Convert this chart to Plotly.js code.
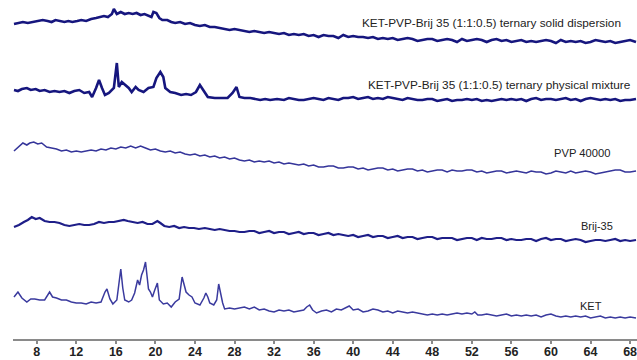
<!DOCTYPE html>
<html>
<head>
<meta charset="utf-8">
<script src="https://cdn.plot.ly/plotly-3.0.1.min.js"></script>
<style>html,body{margin:0;padding:0;background:#fff;}#chart{width:637px;height:360px;}</style>
</head>
<body>
<div id="chart"></div>
<script>
// 2θ (degrees) and stacked intensities (arbitrary units)
const sdX = [5.7,6.1,6.6,7.1,7.6,8.0,8.6,9.1,9.5,9.9,10.4,10.8,11.2,11.6,12.1,12.5,13.0,13.5,14.0,14.5,14.8,15.2,15.6,15.8,16.1,16.5,16.9,17.3,17.7,18.1,18.5,18.9,19.3,19.6,19.8,20.1,20.4,20.7,21.2,21.6,22.0,22.5,23.0,23.5,24.0,24.5,25.0,25.5,26.0,26.5,27.0,27.5,28.0,28.5,29.0,29.5,30.0,30.5,31.0,31.5,32.0,32.5,33.0,33.5,34.0,34.5,35.0,35.5,36.0,36.5,37.0,37.5,38.0,38.5,39.0,39.5,40.0,40.5,41.0,41.5,42.0,42.5,43.0,43.5,44.0,44.5,45.0,45.5,46.0,46.5,47.0,47.5,48.0,48.5,49.0,49.5,50.0,50.5,51.0,51.5,52.0,52.5,53.0,53.5,54.0,54.5,55.0,55.5,56.0,56.5,57.0,57.5,58.0,58.5,59.0,59.5,60.0,60.5,61.0,61.5,62.0,62.5,63.0,63.5,64.0,64.5,65.0,65.5,66.0,66.5,67.0,67.5,68.0,68.6];
const sdY = [315,316,317,316,317,318,319,318,317,319,318,317,318,317,318,319,318,320,321,322,323,322,325,330,325,327,325,326,325,326,324,325,323,322,327,326,321,319,319,317,316,317,315,316,314,313,314,312,312,311,310,309,310,309,308,307,308,307,306,307,306,305,306,304,305,304,305,303,304,302,304,303,303,301,304,302,303,302,302,301,302,300,301,300,301,299,300,301,300,298,299,300,300,298,299,300,299,297,300,298,299,300,299,297,299,300,298,299,297,298,299,297,298,297,298,299,298,296,299,297,298,297,298,296,297,299,298,297,298,296,297,298,299,297,298,297,297];

const pmX = [5.7,6.1,6.5,7.0,7.4,7.9,8.3,8.8,9.3,9.8,10.3,10.8,11.3,11.8,12.3,12.8,13.3,13.6,14.0,14.3,14.6,14.9,15.3,15.8,16.1,16.3,16.6,17.0,17.3,17.6,18.0,18.3,18.8,19.3,19.8,20.1,20.5,20.8,21.0,21.5,22.0,22.6,23.1,23.6,24.1,24.5,24.8,25.3,26.0,26.6,27.3,27.8,28.2,28.5,29.0,29.6,30.1,30.6,31.1,31.6,32.3,33.0,33.5,34.0,34.5,35.0,35.5,36.0,36.5,37.0,37.5,38.0,38.5,39.0,39.5,40.0,40.5,41.0,41.5,42.0,42.5,43.0,43.5,44.0,44.5,45.0,45.5,46.0,46.5,47.0,47.5,48.0,48.5,49.0,49.5,50.0,50.5,51.0,51.5,52.0,52.5,53.0,53.5,54.0,54.5,55.0,55.5,56.0,56.5,57.0,57.5,58.0,58.5,59.0,59.5,60.0,60.5,61.0,61.5,62.0,62.5,63.0,63.5,64.0,64.5,65.0,65.5,66.0,66.5,67.0,67.5,68.0,68.6];
const pmY = [249,248,250,251,249,250,248,249,247,248,247,248,246,248,249,246,247,242,251,259,251,244,246,251,276,252,257,254,251,247,252,249,247,251,252,261,267,262,251,247,246,244,245,244,247,254,249,242,241,241,241,246,252,242,241,241,240,239,240,239,240,239,241,240,239,239,240,241,240,239,241,240,239,241,241,242,240,241,242,240,241,240,242,241,240,239,241,240,239,239,240,240,238,239,240,238,239,239,240,239,240,238,239,238,239,240,239,240,239,240,238,240,241,239,240,240,239,240,241,239,240,238,240,241,240,239,240,239,240,238,239,239,240,239,240,238,239];

const pvpX = [5.7,6.2,6.6,7.0,7.3,7.7,8.1,8.5,9.0,9.5,10.0,10.5,11.0,11.5,12.0,12.5,13.0,13.5,14.0,14.5,15.0,15.5,16.0,16.5,17.0,17.5,18.0,18.5,19.0,19.5,20.0,20.5,21.0,21.5,22.0,22.5,23.0,23.5,24.0,24.5,25.0,25.5,26.0,26.5,27.0,27.5,28.0,28.5,29.0,29.5,30.0,30.5,31.0,31.5,32.0,32.5,33.0,33.5,34.0,34.5,35.0,35.5,36.0,36.5,37.0,37.5,38.0,38.5,39.0,39.5,40.0,40.5,41.0,41.5,42.0,42.5,43.0,43.5,44.0,44.5,45.0,45.5,46.0,46.5,47.0,47.5,48.0,48.5,49.0,49.5,50.0,50.5,51.0,51.5,52.0,52.5,53.0,53.5,54.0,54.5,55.0,55.5,56.0,56.5,57.0,57.5,58.0,58.5,59.0,59.5,60.0,60.5,61.0,61.5,62.0,62.5,63.0,63.5,64.0,64.5,65.0,65.5,66.0,66.5,67.0,67.5,68.0,68.6];
const pvpY = [188,193,196,194,196,197,195,196,192,191,190,188,189,187,188,187,188,189,188,190,189,191,190,192,191,193,191,193,191,189,190,188,187,188,186,187,185,184,185,183,184,182,183,181,182,180,181,179,178,179,177,178,177,178,176,177,175,176,175,174,175,173,174,172,172,173,173,171,171,172,172,170,171,169,170,171,171,169,170,168,169,170,170,168,169,167,168,169,169,167,169,168,168,169,169,167,168,166,167,168,168,166,167,168,167,166,168,167,167,165,166,168,167,166,168,166,167,168,167,165,166,167,168,169,169,167,167,168,166,167,166];

const brX = [5.7,6.2,6.7,7.1,7.5,7.9,8.3,8.8,9.3,9.8,10.3,10.8,11.3,11.8,12.3,12.8,13.3,13.8,14.3,14.8,15.3,15.8,16.3,16.8,17.2,17.7,18.2,18.7,19.2,19.7,20.2,20.5,20.9,21.4,21.9,22.4,22.9,23.4,23.9,24.4,25.0,25.5,26.0,26.5,27.0,27.5,28.0,28.5,29.0,29.5,30.0,30.5,31.0,31.5,32.0,32.5,33.0,33.5,34.0,34.5,35.0,35.5,36.0,36.5,37.0,37.5,38.0,38.5,39.0,39.5,40.0,40.5,41.0,41.5,42.0,42.5,43.0,43.5,44.0,44.5,45.0,45.5,46.0,46.5,47.0,47.5,48.0,48.5,49.0,49.5,50.0,50.5,51.0,51.5,52.0,52.5,53.0,53.5,54.0,54.5,55.0,55.5,56.0,56.5,57.0,57.5,58.0,58.5,59.0,59.5,60.0,60.5,61.0,61.5,62.0,62.5,63.0,63.5,64.0,64.5,65.0,65.5,66.0,66.5,67.0,67.5,68.0,68.6];
const brY = [112,114,117,119,122,120,121,118,117,117,116,114,113,114,115,114,114,115,117,116,117,117,118,119,118,117,116,117,115,115,118,116,113,112,113,111,112,111,111,110,111,110,109,110,109,108,108,107,107,108,108,106,107,108,106,107,107,105,106,107,105,106,106,104,105,106,104,105,104,103,104,102,103,104,102,103,103,101,102,103,101,102,102,100,101,102,102,100,101,101,101,99,100,101,101,99,101,100,100,101,101,99,100,99,99,100,100,98,100,101,99,100,100,98,99,100,99,97,98,99,99,98,99,100,98,99,98,99,98,97,99];

const ketX = [5.7,6.1,6.5,7.0,7.4,7.8,8.3,8.8,9.3,9.6,10.0,10.5,11.0,11.5,12.0,12.5,13.0,13.5,14.0,14.5,14.9,15.1,15.4,15.7,16.1,16.4,16.5,16.7,16.9,17.3,17.6,17.9,18.2,18.4,18.6,18.8,19.0,19.2,19.3,19.5,19.7,19.9,20.2,20.4,20.8,21.2,21.6,22.0,22.4,22.7,22.9,23.1,23.4,23.7,24.0,24.5,24.9,25.1,25.3,25.5,25.9,26.2,26.4,26.6,26.8,27.0,27.5,28.0,28.5,29.0,29.5,30.0,30.5,31.0,31.5,32.0,32.5,33.0,33.5,34.0,34.5,35.0,35.3,35.6,35.9,36.3,36.8,37.3,37.8,38.3,38.8,39.3,39.6,40.0,40.5,41.0,41.5,42.0,42.5,43.0,43.5,44.0,44.5,45.0,45.5,46.0,46.5,47.0,47.5,48.0,48.5,49.0,49.5,50.0,50.5,51.0,51.5,52.0,52.3,52.6,53.0,53.5,54.0,54.5,55.0,55.5,56.0,56.5,57.0,57.5,58.0,58.5,59.0,59.5,60.0,60.5,61.0,61.5,62.0,62.5,63.0,63.5,64.0,64.5,65.0,65.5,66.0,66.5,67.0,67.5,68.0,68.6];
const ketY = [42,47,41,37,40,40,39,39,47,42,41,39,39,37,36,36,35,37,36,37,47,50,40,35,39,59,70,51,39,37,39,46,59,54,64,69,77,59,50,47,42,48,56,39,35,36,32,37,40,62,54,47,44,42,36,34,41,46,42,36,34,39,55,44,36,30,31,30,31,32,30,32,29,30,28,27,29,28,29,27,28,29,32,34,29,26,28,29,27,30,29,31,33,29,30,27,28,30,29,27,28,26,28,27,26,27,26,25,24,25,24,25,24,25,26,25,26,25,27,24,24,25,24,23,24,25,23,24,23,24,23,24,22,24,25,23,22,23,22,23,22,23,21,22,23,21,22,21,22,21,22,21];

const labels = [
  "KET-PVP-Brij 35 (1:1:0.5) ternary solid dispersion",
  "KET-PVP-Brij 35 (1:1:0.5) ternary physical mixture",
  "PVP 40000",
  "Brij-35",
  "KET"
];
const xTicks = [8,12,16,20,24,28,32,36,40,44,48,52,56,60,64,68];

const series = [
  {x: sdX, y: sdY, w: 2.6, c: '#16167e'},
  {x: pmX, y: pmY, w: 2.6, c: '#16167e'},
  {x: pvpX, y: pvpY, w: 1.6, c: '#35359a'},
  {x: brX, y: brY, w: 2.2, c: '#1e1e88'},
  {x: ketX, y: ketY, w: 1.5, c: '#3a3a9e'}
];

const traces = series.map((s, i) => ({
  x: s.x, y: s.y, type: 'scatter', mode: 'lines', name: labels[i],
  line: {color: s.c, width: s.w, shape: 'linear'}, hoverinfo: 'skip'
}));

const labelPos = [
  {x: 0.977, y: 0.932, s: 11.8},
  {x: 0.993, y: 0.749, s: 11.8},
  {x: 0.960, y: 0.549, s: 11.2},
  {x: 0.965, y: 0.333, s: 11},
  {x: 0.947, y: 0.097, s: 11}
];
const annotations = labels.map((t, i) => ({
  text: t, xref: 'paper', yref: 'paper', x: labelPos[i].x, y: labelPos[i].y,
  xanchor: 'right', yanchor: 'middle', showarrow: false,
  font: {family: 'Liberation Sans, Arial, sans-serif', size: labelPos[i].s, color: '#222'}
}));

const layout = {
  width: 637, height: 360,
  margin: {l: 13, r: 0, t: 0, b: 21, pad: 0},
  paper_bgcolor: '#fff', plot_bgcolor: '#fff',
  showlegend: false,
  xaxis: {
    range: [5.6, 68.7], tickmode: 'array', tickvals: xTicks, ticktext: xTicks.map(String),
    showline: true, linecolor: '#8a8a8a', linewidth: 2, mirror: false,
    ticks: 'outside', ticklen: 3, tickwidth: 2, tickcolor: '#8a8a8a',
    ticklabelstandoff: -3, ticklabeloverflow: 'allow',
    showgrid: false, zeroline: false,
    tickfont: {family: 'Liberation Sans, Arial, sans-serif', size: 12.5, color: '#222', weight: 'bold'}
  },
  yaxis: {range: [0, 339], visible: false, showgrid: false, zeroline: false, fixedrange: true},
  annotations: annotations
};

Plotly.newPlot('chart', traces, layout, {displayModeBar: false, staticPlot: true});
</script>
</body>
</html>
